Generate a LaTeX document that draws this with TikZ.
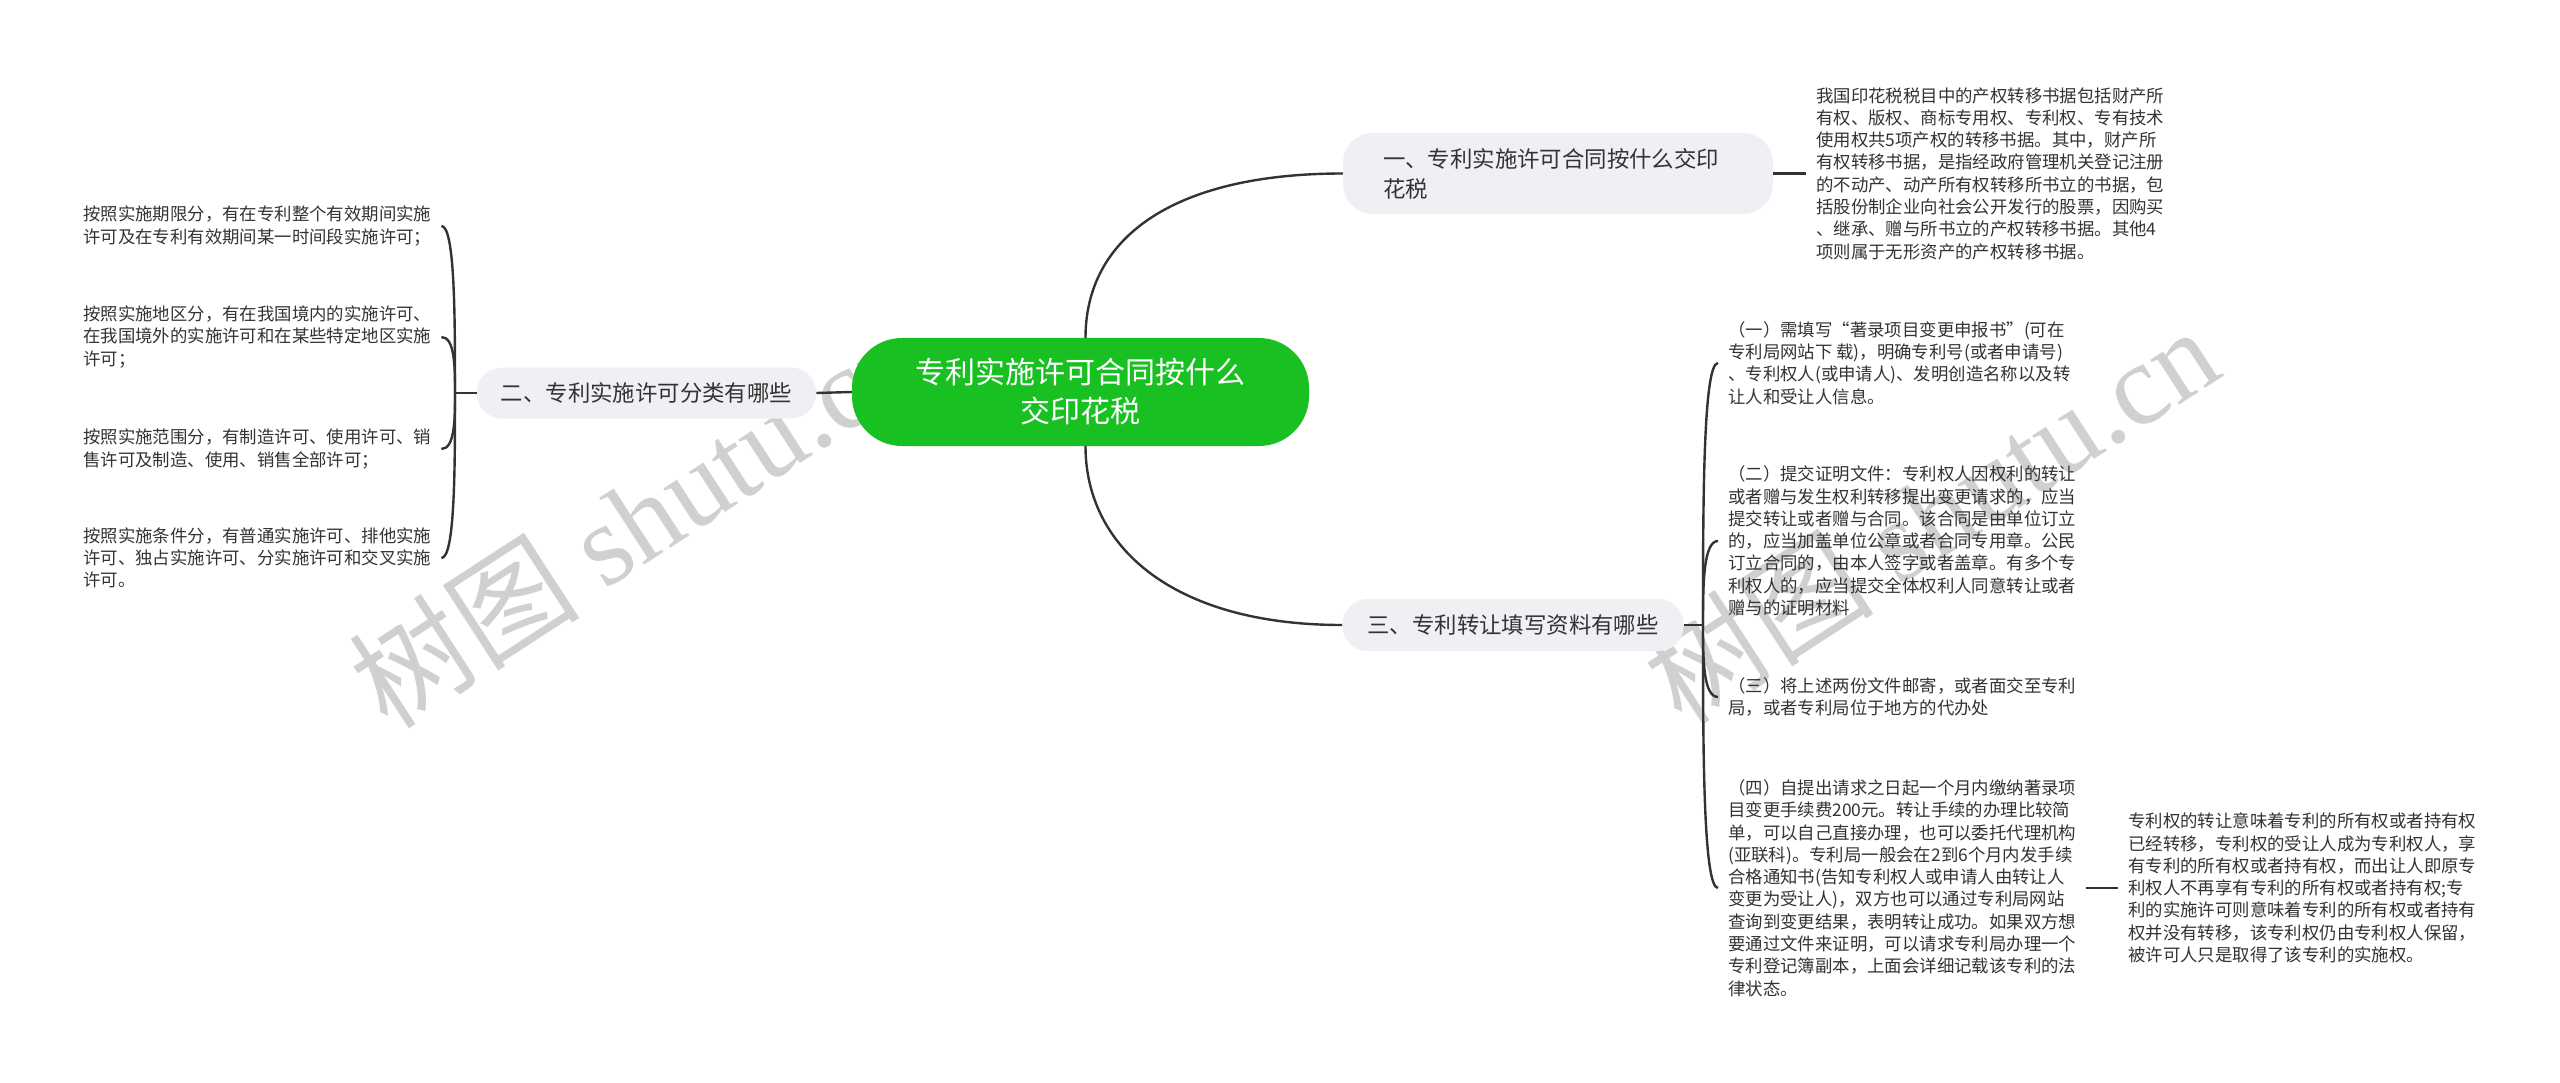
\documentclass[tikz,border=0pt]{standalone}
\usepackage{fontspec}
\setmainfont{Noto Sans CJK SC}
\newfontfamily\wmfont{Liberation Serif}
\usetikzlibrary{calc}
\definecolor{lineC}{HTML}{333333}
\definecolor{topicC}{HTML}{EEF0F3}
\definecolor{rootC}{RGB}{24,192,34}
\definecolor{wmC}{RGB}{208,208,208}
\definecolor{txtC}{HTML}{333333}
\begin{document}
\begin{tikzpicture}[x=1pt,y=-1pt,
  link/.style={draw=lineC, line width=2.4pt},
  rootnode/.style={fill=rootC, rounded corners=50pt, minimum width=457pt, minimum height=108pt, text=white, align=center, font=\fontsize{30}{39}\selectfont, inner sep=0pt},
  topic/.style={fill=topicC, rounded corners=25pt, text=txtC, font=\fontsize{22.4}{30}\selectfont, inner ysep=0pt, align=left},
  leaf/.style={text=txtC, font=\fontsize{17.4}{22.3}\selectfont, align=left, inner xsep=10pt, inner ysep=0pt},
  wm/.style={text=wmC, rotate=33, inner sep=0pt}]

\fill[white] (0,0) rectangle (2560,1083);
\useasboundingbox (0,0) rectangle (2560,1083);

% watermarks
\node[wm] (wm1) at (636,518) {\fontsize{116}{116}\selectfont 树图 {\wmfont shutu.cn}};
\node[wm] (wm2) at (1930,514) {\fontsize{116}{116}\selectfont 树图 {\wmfont shutu.cn}};

% root
\node[rootnode] (root) at (1080.5,392) {专利实施许可合同按什么\\交印花税};

% topics
\node[topic, text width=350pt, inner xsep=40pt, minimum height=81pt, rounded corners=30pt] (t1) at (1558,173.5) {一、专利实施许可合同按什么交印\\花税};
\node[topic, inner xsep=24pt, minimum height=51pt] (t2) at (646.5,393) {二、专利实施许可分类有哪些};
\node[topic, inner xsep=25pt, minimum height=52pt] (t3) at (1513,625) {三、专利转让填写资料有哪些};

% left leaves
\node[leaf, anchor=west] (l1) at (73,226) {按照实施期限分，有在专利整个有效期间实施\\许可及在专利有效期间某一时间段实施许可；};
\node[leaf, anchor=west] (l2) at (73,337) {按照实施地区分，有在我国境内的实施许可、\\在我国境外的实施许可和在某些特定地区实施\\许可；};
\node[leaf, anchor=west] (l3) at (73,449) {按照实施范围分，有制造许可、使用许可、销\\售许可及制造、使用、销售全部许可；};
\node[leaf, anchor=west] (l4) at (73,558) {按照实施条件分，有普通实施许可、排他实施\\许可、独占实施许可、分实施许可和交叉实施\\许可。};

% right leaves
\node[leaf, anchor=west] (r0) at (1806,173.5) {我国印花税税目中的产权转移书据包括财产所\\有权、版权、商标专用权、专利权、专有技术\\使用权共5项产权的转移书据。其中，财产所\\有权转移书据，是指经政府管理机关登记注册\\的不动产、动产所有权转移所书立的书据，包\\括股份制企业向社会公开发行的股票，因购买\\、继承、赠与所书立的产权转移书据。其他4\\项则属于无形资产的产权转移书据。};
\node[leaf, anchor=west] (r1) at (1718,363) {（一）需填写“著录项目变更申报书”(可在\\专利局网站下 载)，明确专利号(或者申请号)\\、专利权人(或申请人)、发明创造名称以及转\\让人和受让人信息。};
\node[leaf, anchor=west] (r2) at (1718,541) {（二）提交证明文件：专利权人因权利的转让\\或者赠与发生权利转移提出变更请求的，应当\\提交转让或者赠与合同。该合同是由单位订立\\的，应当加盖单位公章或者合同专用章。公民\\订立合同的，由本人签字或者盖章。有多个专\\利权人的，应当提交全体权利人同意转让或者\\赠与的证明材料};
\node[leaf, anchor=west] (r3) at (1718,697) {（三）将上述两份文件邮寄，或者面交至专利\\局，或者专利局位于地方的代办处};
\node[leaf, anchor=west] (r4) at (1718,888) {（四）自提出请求之日起一个月内缴纳著录项\\目变更手续费200元。转让手续的办理比较简\\单，可以自己直接办理，也可以委托代理机构\\(亚联科)。专利局一般会在2到6个月内发手续\\合格通知书(告知专利权人或申请人由转让人\\变更为受让人)，双方也可以通过专利局网站\\查询到变更结果，表明转让成功。如果双方想\\要通过文件来证明，可以请求专利局办理一个\\专利登记簿副本，上面会详细记载该专利的法\\律状态。};
\node[leaf, anchor=west] (r5) at (2118,888) {专利权的转让意味着专利的所有权或者持有权\\已经转移，专利权的受让人成为专利权人，享\\有专利的所有权或者持有权，而出让人即原专\\利权人不再享有专利的所有权或者持有权;专\\利的实施许可则意味着专利的所有权或者持有\\权并没有转移，该专利权仍由专利权人保留，\\被许可人只是取得了该专利的实施权。};

% connectors from root
\draw[link] ([xshift=5pt]root.north) .. controls +(0,-100) and +(-170,0) .. (t1.west);
\draw[link] ([xshift=5pt]root.south) .. controls +(0,100) and +(-170,0) .. (t3.west);
\draw[link] (root.west) -- (t2.east);

% topic 1 -> detail
\draw[link] (t1.east) -- (r0.west);

% left brace
\coordinate (lb) at (455,393);
\draw[link] (t2.west) -- (lb);
\foreach \n in {l1,l2,l3,l4}{
  \draw[link] (lb) .. controls ($(lb)!0.45!(lb |- \n.east)$) and (lb |- \n.east) .. (\n.east);
}

% right brace
\coordinate (rb) at (1703,625);
\draw[link] (t3.east) -- (rb);
\foreach \n in {r1,r2,r3,r4}{
  \draw[link] (rb) .. controls ($(rb)!0.45!(rb |- \n.west)$) and (rb |- \n.west) .. (\n.west);
}

% (四) -> note
\draw[link] (r4.east) -- (r5.west);
\end{tikzpicture}
\end{document}
